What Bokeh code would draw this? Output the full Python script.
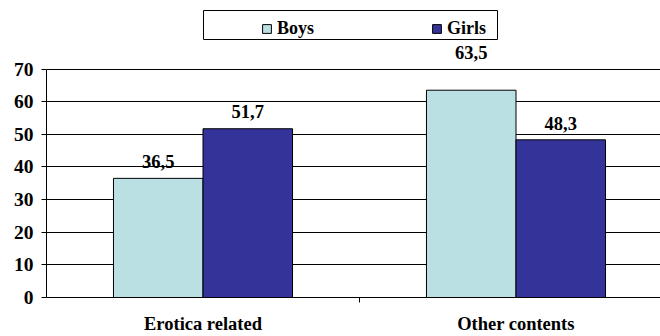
from bokeh.plotting import figure
from bokeh.models import (ColumnDataSource, Range1d, FixedTicker, Legend, LegendItem,
                          BoxAnnotation, LabelSet)
from bokeh.embed import file_html
from bokeh.resources import INLINE

# --- data -------------------------------------------------------------
categories = ["Erotica related", "Other contents"]
boys = [36.5, 63.5]
girls = [51.7, 48.3]
y_ticks = [0, 10, 20, 30, 40, 50, 60, 70]

FONT = "Liberation Serif"
BOYS_COLOR = "#bbe0e3"
GIRLS_COLOR = "#333399"

W, H = 660, 336
LEFT, BOTTOM = 46, 39
frame_w = W - LEFT
frame_h = H - BOTTOM
cat_px = 313                       # pixel width of one category slot
top_val = 70 * frame_h / 228.5     # 0..70 spans 228.5 px

x_end = frame_w / cat_px

centers = [i + 0.5 for i in range(len(categories))]
bar_w = 0.286

# extra lift (px) of each value label above its bar
boys_lift = [10, 31]
girls_lift = [11, 10]

src_b = ColumnDataSource(dict(x=[c - bar_w / 2 for c in centers], y=boys, off=boys_lift,
                              lab=[f"{v:.1f}".replace(".", ",") for v in boys]))
src_g = ColumnDataSource(dict(x=[c + bar_w / 2 for c in centers], y=girls, off=girls_lift,
                              lab=[f"{v:.1f}".replace(".", ",") for v in girls]))

p = figure(width=W, height=H, output_backend="svg", toolbar_location=None,
           x_range=Range1d(0, x_end), y_range=Range1d(0, top_val),
           min_border_left=LEFT, min_border_right=0, min_border_top=0,
           min_border_bottom=BOTTOM)
p.outline_line_color = None
p.background_fill_color = "white"

rb = p.vbar(x="x", top="y", width=bar_w, source=src_b, fill_color=BOYS_COLOR,
            line_color="black", line_width=1)
rg = p.vbar(x="x", top="y", width=bar_w, source=src_g, fill_color=GIRLS_COLOR,
            line_color="black", line_width=1)
rb.level = "overlay"
rg.level = "overlay"

for src in (src_b, src_g):
    p.add_layout(LabelSet(x="x", y="y", text="lab", source=src, text_align="center",
                          text_baseline="bottom", y_offset="off", text_font=FONT,
                          text_font_style="bold", text_font_size="18.5px",
                          text_color="black"))

# y axis
p.yaxis.ticker = FixedTicker(ticks=y_ticks, minor_ticks=[])
p.yaxis.bounds = (0, 70)
p.yaxis.axis_line_color = "black"
p.yaxis.major_tick_in = 0
p.yaxis.major_tick_out = 5
p.yaxis.minor_tick_out = 0
p.yaxis.major_tick_line_color = "black"
p.yaxis.major_label_standoff = 8
p.yaxis.major_label_text_font = FONT
p.yaxis.major_label_text_font_style = "bold"
p.yaxis.major_label_text_font_size = "19.5px"
p.yaxis.major_label_text_color = "black"

# x axis: labels at category centres, divider tick between them
p.xaxis.ticker = FixedTicker(ticks=centers, minor_ticks=[1.0])
p.xaxis.major_label_overrides = {c: name for c, name in zip(centers, categories)}
p.xaxis.axis_line_color = "black"
p.xaxis.major_tick_in = 0
p.xaxis.major_tick_out = 0
p.xaxis.minor_tick_in = 0
p.xaxis.minor_tick_out = 5
p.xaxis.minor_tick_line_color = "black"
p.xaxis.major_label_standoff = 11
p.xaxis.major_label_text_font = FONT
p.xaxis.major_label_text_font_style = "bold"
p.xaxis.major_label_text_font_size = "18.5px"
p.xaxis.major_label_text_color = "black"

p.xgrid.visible = False
p.ygrid.grid_line_color = "black"
p.ygrid.grid_line_alpha = 1.0

# legend frame (pixel geometry converted to data space)
def px_x(px):
    return (px - LEFT) / cat_px

def px_y(py):
    return (frame_h - py) * top_val / frame_h

p.add_layout(BoxAnnotation(left=px_x(203), right=px_x(497), top=px_y(10), bottom=px_y(39),
                           fill_color="white", fill_alpha=1, line_color="black",
                           line_width=1, line_alpha=1, level="overlay"))

legend = Legend(items=[LegendItem(label="Boys", renderers=[rb]),
                       LegendItem(label="Girls", renderers=[rg])],
                orientation="horizontal", location=(261 - LEFT, frame_h - 39),
                padding=0, margin=0, spacing=0, glyph_width=11, glyph_height=11,
                label_standoff=5, label_width=154, border_line_color=None,
                background_fill_alpha=0, label_text_font=FONT,
                label_text_font_style="bold", label_text_font_size="18px",
                label_text_color="black")
p.add_layout(legend, "center")

open("out.html", "w").write(file_html(p, INLINE))
